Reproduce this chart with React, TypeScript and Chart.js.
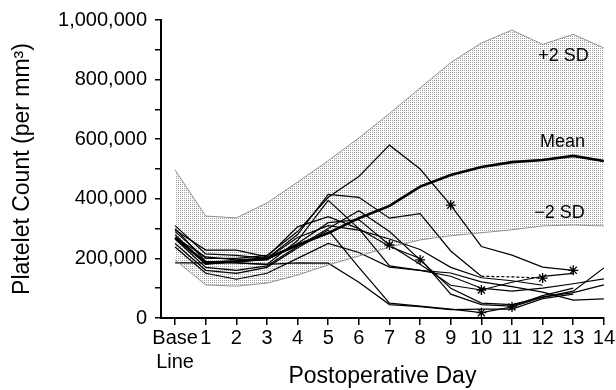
import React, { useEffect, useRef } from 'react';
import { Chart, registerables } from 'chart.js';

Chart.register(...registerables);

const FONT = "'Liberation Sans', Arial, Helvetica, sans-serif";

// Postoperative days (0 = Base Line)
const days = [0, 1, 2, 3, 4, 5, 6, 7, 8, 9, 10, 11, 12, 13, 14];
const xTickLabels: (string | string[])[] = [['Base', 'Line'], '1', '2', '3', '4', '5', '6', '7', '8', '9', '10', '11', '12', '13', '14'];

// Y axis ticks (thousands per mm3)
const yTickValues = [0, 100, 200, 300, 400, 500, 600, 700, 800, 900, 1000];
const yTickLabels = ['0', '', '200,000', '', '400,000', '', '600,000', '', '800,000', '', '1,000,000'];

// Reference band (thousands)
const plus2SD = [497, 342, 336, 386, 456, 528, 604, 686, 772, 857, 923, 966, 918, 952, 906];
const minus2SD = [195, 111, 107, 117, 144, 178, 208, 238, 262, 276, 286, 296, 309, 312, 309];
const meanCount = [270, 185, 190, 200, 245, 285, 335, 376, 441, 480, 507, 523, 530, 544, 527];

// Individual patients (thousands), null = no further data
const patient1 = [290, 200, 200, 210, 290, 405, 475, 580, 500, 379, 240, 211, 171, 160, null];
const patient2 = [310, 215, 210, 200, 280, 415, 405, 335, 350, 225, 140, 138, 134, null, null];
const patient3 = [300, 190, 185, 180, 260, 395, 300, 175, 160, 140, 100, 90, 100, 115, 131];
const patient4 = [280, 180, 190, 195, 250, 320, 330, 245, 180, 110, 94, 120, 140, 150, null];
const patient5 = [265, 170, 160, 175, 240, 300, 360, 290, 195, 100, 50, 45, 70, 90, 168];
const patient6 = [250, 160, 150, 170, 235, 295, 170, 50, 40, 30, 18, 37, 70, 85, 111];
const patient7 = [185, 185, 185, 180, 185, 184, 120, 45, 38, 28, 30, 30, 65, 80, null];
const patient8 = [238, 150, 130, 150, 200, 250, 220, 171, 160, 151, 121, 105, 87, 60, 64];
const patient9 = [295, 228, 228, 205, 306, 340, 300, 240, 200, 80, 45, 40, 75, 100, null];
const patient10 = [270, 205, 195, 200, 270, 310, 295, 265, 230, 170, 135, 125, 110, null, null];

const patients = [patient1, patient2, patient3, patient4, patient5, patient6, patient7, patient8, patient9, patient10];
// Asterisk-marked days for each patient
const asterisks: number[][] = [[9, 13], [12], [], [7, 10], [8], [10, 11], [], [], [], []];
// Dashed stretch (start day index) per patient, -1 = none
const dashedFrom = [-1, 10, -1, -1, -1, -1, -1, -1, -1, -1];

const bandLabels = [
  { text: '+2 SD', day: 12.68, value: 880 },
  { text: 'Mean', day: 12.65, value: 590 },
  { text: '\u22122 SD', day: 12.55, value: 352 },
];

export default function App() {
  const ref = useRef<HTMLCanvasElement>(null);

  useEffect(() => {
    document.body.style.margin = '0';
    const canvas = ref.current!;
    const pc = document.createElement('canvas');
    pc.width = 2;
    pc.height = 2;
    const pctx = pc.getContext('2d')!;
    pctx.fillStyle = 'rgba(60,60,60,0.5)';
    pctx.fillRect(0, 0, 1, 1);
    const pattern = canvas.getContext('2d')!.createPattern(pc, 'repeat')!;

    const toXY = (arr: (number | null)[]) => arr.map((v, i) => ({ x: days[i], y: v }));

    const labelPlugin = {
      id: 'bandLabels',
      afterDatasetsDraw(chart: any) {
        const { ctx, scales } = chart;
        ctx.save();
        ctx.font = `18px ${FONT}`;
        ctx.fillStyle = '#000';
        ctx.textAlign = 'center';
        ctx.textBaseline = 'middle';
        bandLabels.forEach((l) => {
          ctx.fillText(l.text, scales.x.getPixelForValue(l.day), scales.y.getPixelForValue(l.value));
        });
        ctx.restore();
      },
    };

    const patientSets = patients.map((p, k) => ({
      data: toXY(p),
      borderColor: '#000',
      borderWidth: 1.2,
      fill: false,
      tension: 0,
      pointStyle: 'star',
      pointRadius: p.map((_, i) => (asterisks[k].includes(i) ? 5 : 0)),
      pointBorderColor: '#000',
      pointBorderWidth: 1.3,
      segment: {
        borderDash: (ctx: any) => (dashedFrom[k] >= 0 && ctx.p0DataIndex >= dashedFrom[k] ? [3, 2] : undefined),
      },
    }));

    const chart = new Chart(canvas, {
      type: 'line',
      data: {
        datasets: [
          {
            data: toXY(plus2SD),
            borderColor: '#777',
            borderWidth: 0.8,
            pointRadius: 0,
            fill: 1,
            backgroundColor: pattern,
            tension: 0,
          },
          {
            data: toXY(minus2SD),
            borderColor: '#777',
            borderWidth: 0.8,
            pointRadius: 0,
            fill: false,
            tension: 0,
          },
          {
            data: toXY(meanCount),
            borderColor: '#000',
            borderWidth: 2.6,
            pointRadius: 0,
            fill: false,
            tension: 0,
          },
          ...patientSets,
        ] as any,
      },
      options: {
        responsive: false,
        animation: false,
        devicePixelRatio: 1,
        events: [],
        layout: { padding: { top: 20, right: 12, left: 0, bottom: 0 } },
        plugins: {
          legend: { display: false },
          tooltip: { enabled: false },
          filler: { drawTime: 'beforeDatasetsDraw' },
        } as any,
        scales: {
          x: {
            type: 'linear',
            min: -0.46,
            max: 14,
            afterBuildTicks: (scale: any) => {
              scale.ticks = days.map((d) => ({ value: d }));
            },
            afterFit: (scale: any) => {
              scale.height = 72;
            },
            ticks: {
              autoSkip: false,
              maxRotation: 0,
              padding: 1,
              color: '#000',
              font: { family: FONT, size: 20 },
              callback: (v: any) => xTickLabels[days.indexOf(Number(v))] ?? '',
            },
            grid: { drawOnChartArea: false, color: '#000', lineWidth: 1.5, tickLength: 7 },
            border: { color: '#000', width: 2 },
            title: {
              display: true,
              text: 'Postoperative Day',
              color: '#000',
              font: { family: FONT, size: 23 },
              padding: { top: 0, bottom: 0 },
            },
          },
          y: {
            type: 'linear',
            min: 0,
            max: 1000,
            afterBuildTicks: (scale: any) => {
              scale.ticks = yTickValues.map((v) => ({ value: v }));
            },
            afterFit: (scale: any) => {
              scale.width = 161;
            },
            ticks: {
              autoSkip: false,
              padding: 8,
              color: '#000',
              font: { family: FONT, size: 20 },
              callback: (v: any) => yTickLabels[yTickValues.indexOf(Number(v))] ?? '',
            },
            grid: { drawOnChartArea: false, color: '#000', lineWidth: 1.5, tickLength: 6 },
            border: { color: '#000', width: 2 },
            title: {
              display: true,
              text: 'Platelet Count (per mm\u00B3)',
              color: '#000',
              font: { family: FONT, size: 23 },
              padding: { top: 9, bottom: 0 },
            },
          },
        },
      },
      plugins: [labelPlugin],
    });

    return () => chart.destroy();
  }, []);

  return (
    <div style={{ width: 616, height: 390 }}>
      <canvas ref={ref} width={616} height={390} />
    </div>
  );
}
